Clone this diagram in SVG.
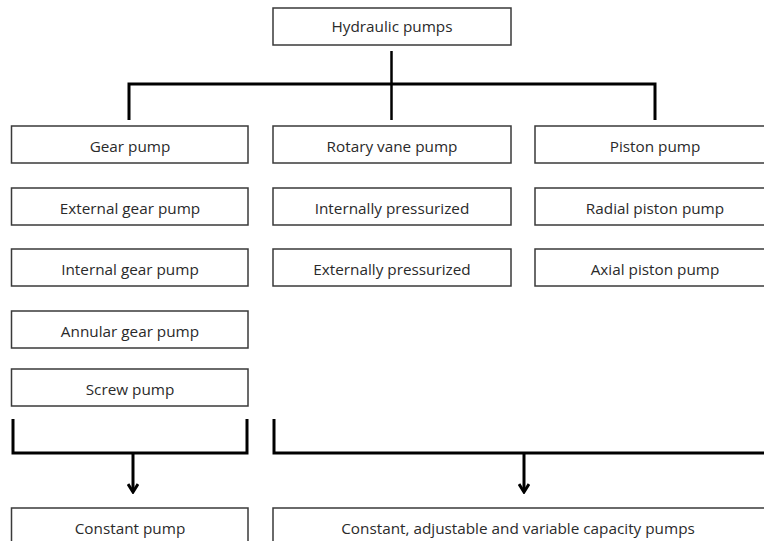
<svg xmlns="http://www.w3.org/2000/svg" width="764" height="541" viewBox="0 0 764 541">
<style>
.box{fill:#fff;stroke:#3a3a3a;stroke-width:1.5}
.t{font-family:"Open Sans","Noto Sans",sans-serif;font-size:15.3px;fill:#2a2a2a;text-anchor:middle}
.c{fill:none;stroke:#000;stroke-width:3}
.c2{fill:none;stroke:#000;stroke-width:2.5}
</style>
<defs>
<marker id="ah" viewBox="0 0 12 12" refX="10" refY="6" markerWidth="12" markerHeight="12" markerUnits="userSpaceOnUse" orient="auto">
<path d="M2,1 L10,6 L2,11" fill="none" stroke="#000" stroke-width="3" stroke-linejoin="miter"/>
</marker>
</defs>
<rect width="764" height="541" fill="#fff"/>
<g id="connectors">
<path class="c2" d="M391.5,51 V120"/>
<path class="c" d="M129,120 V84 H655 V120"/>
<path class="c" d="M13,419 V453 H247 V419"/>
<path class="c" d="M133,453 V492" marker-end="url(#ah)"/>
<path class="c" d="M274,419 V453 H766"/>
<path class="c" d="M524,453 V492" marker-end="url(#ah)"/>
</g>
<g id="n-hydraulic"><rect class="box" x="273" y="8" width="238" height="37"/><text class="t" x="392" y="32">Hydraulic pumps</text></g>
<g id="n-gear"><rect class="box" x="11.5" y="126" width="236.5" height="37"/><text class="t" x="130" y="151.5">Gear pump</text></g>
<g id="n-vane"><rect class="box" x="273" y="126" width="238" height="37"/><text class="t" x="392" y="151.5">Rotary vane pump</text></g>
<g id="n-piston"><rect class="box" x="535" y="126" width="240" height="37"/><text class="t" x="655" y="151.5">Piston pump</text></g>
<g id="n-external-gear"><rect class="box" x="11.5" y="188" width="236.5" height="37"/><text class="t" x="130" y="213.5">External gear pump</text></g>
<g id="n-int-press"><rect class="box" x="273" y="188" width="238" height="37"/><text class="t" x="392" y="213.5">Internally pressurized</text></g>
<g id="n-radial"><rect class="box" x="535" y="188" width="240" height="37"/><text class="t" x="655" y="213.5">Radial piston pump</text></g>
<g id="n-internal-gear"><rect class="box" x="11.5" y="249" width="236.5" height="37"/><text class="t" x="130" y="274.5">Internal gear pump</text></g>
<g id="n-ext-press"><rect class="box" x="273" y="249" width="238" height="37"/><text class="t" x="392" y="274.5">Externally pressurized</text></g>
<g id="n-axial"><rect class="box" x="535" y="249" width="240" height="37"/><text class="t" x="655" y="274.5">Axial piston pump</text></g>
<g id="n-annular"><rect class="box" x="11.5" y="311" width="236.5" height="37"/><text class="t" x="130" y="336.5">Annular gear pump</text></g>
<g id="n-screw"><rect class="box" x="11.5" y="369" width="236.5" height="37"/><text class="t" x="130" y="394.5">Screw pump</text></g>
<g id="n-constant"><rect class="box" x="11.5" y="508" width="236.5" height="40"/><text class="t" x="130" y="533.5">Constant pump</text></g>
<g id="n-variable"><rect class="box" x="273" y="508" width="500" height="40"/><text class="t" x="518" y="533.5">Constant, adjustable and variable capacity pumps</text></g>
</svg>
